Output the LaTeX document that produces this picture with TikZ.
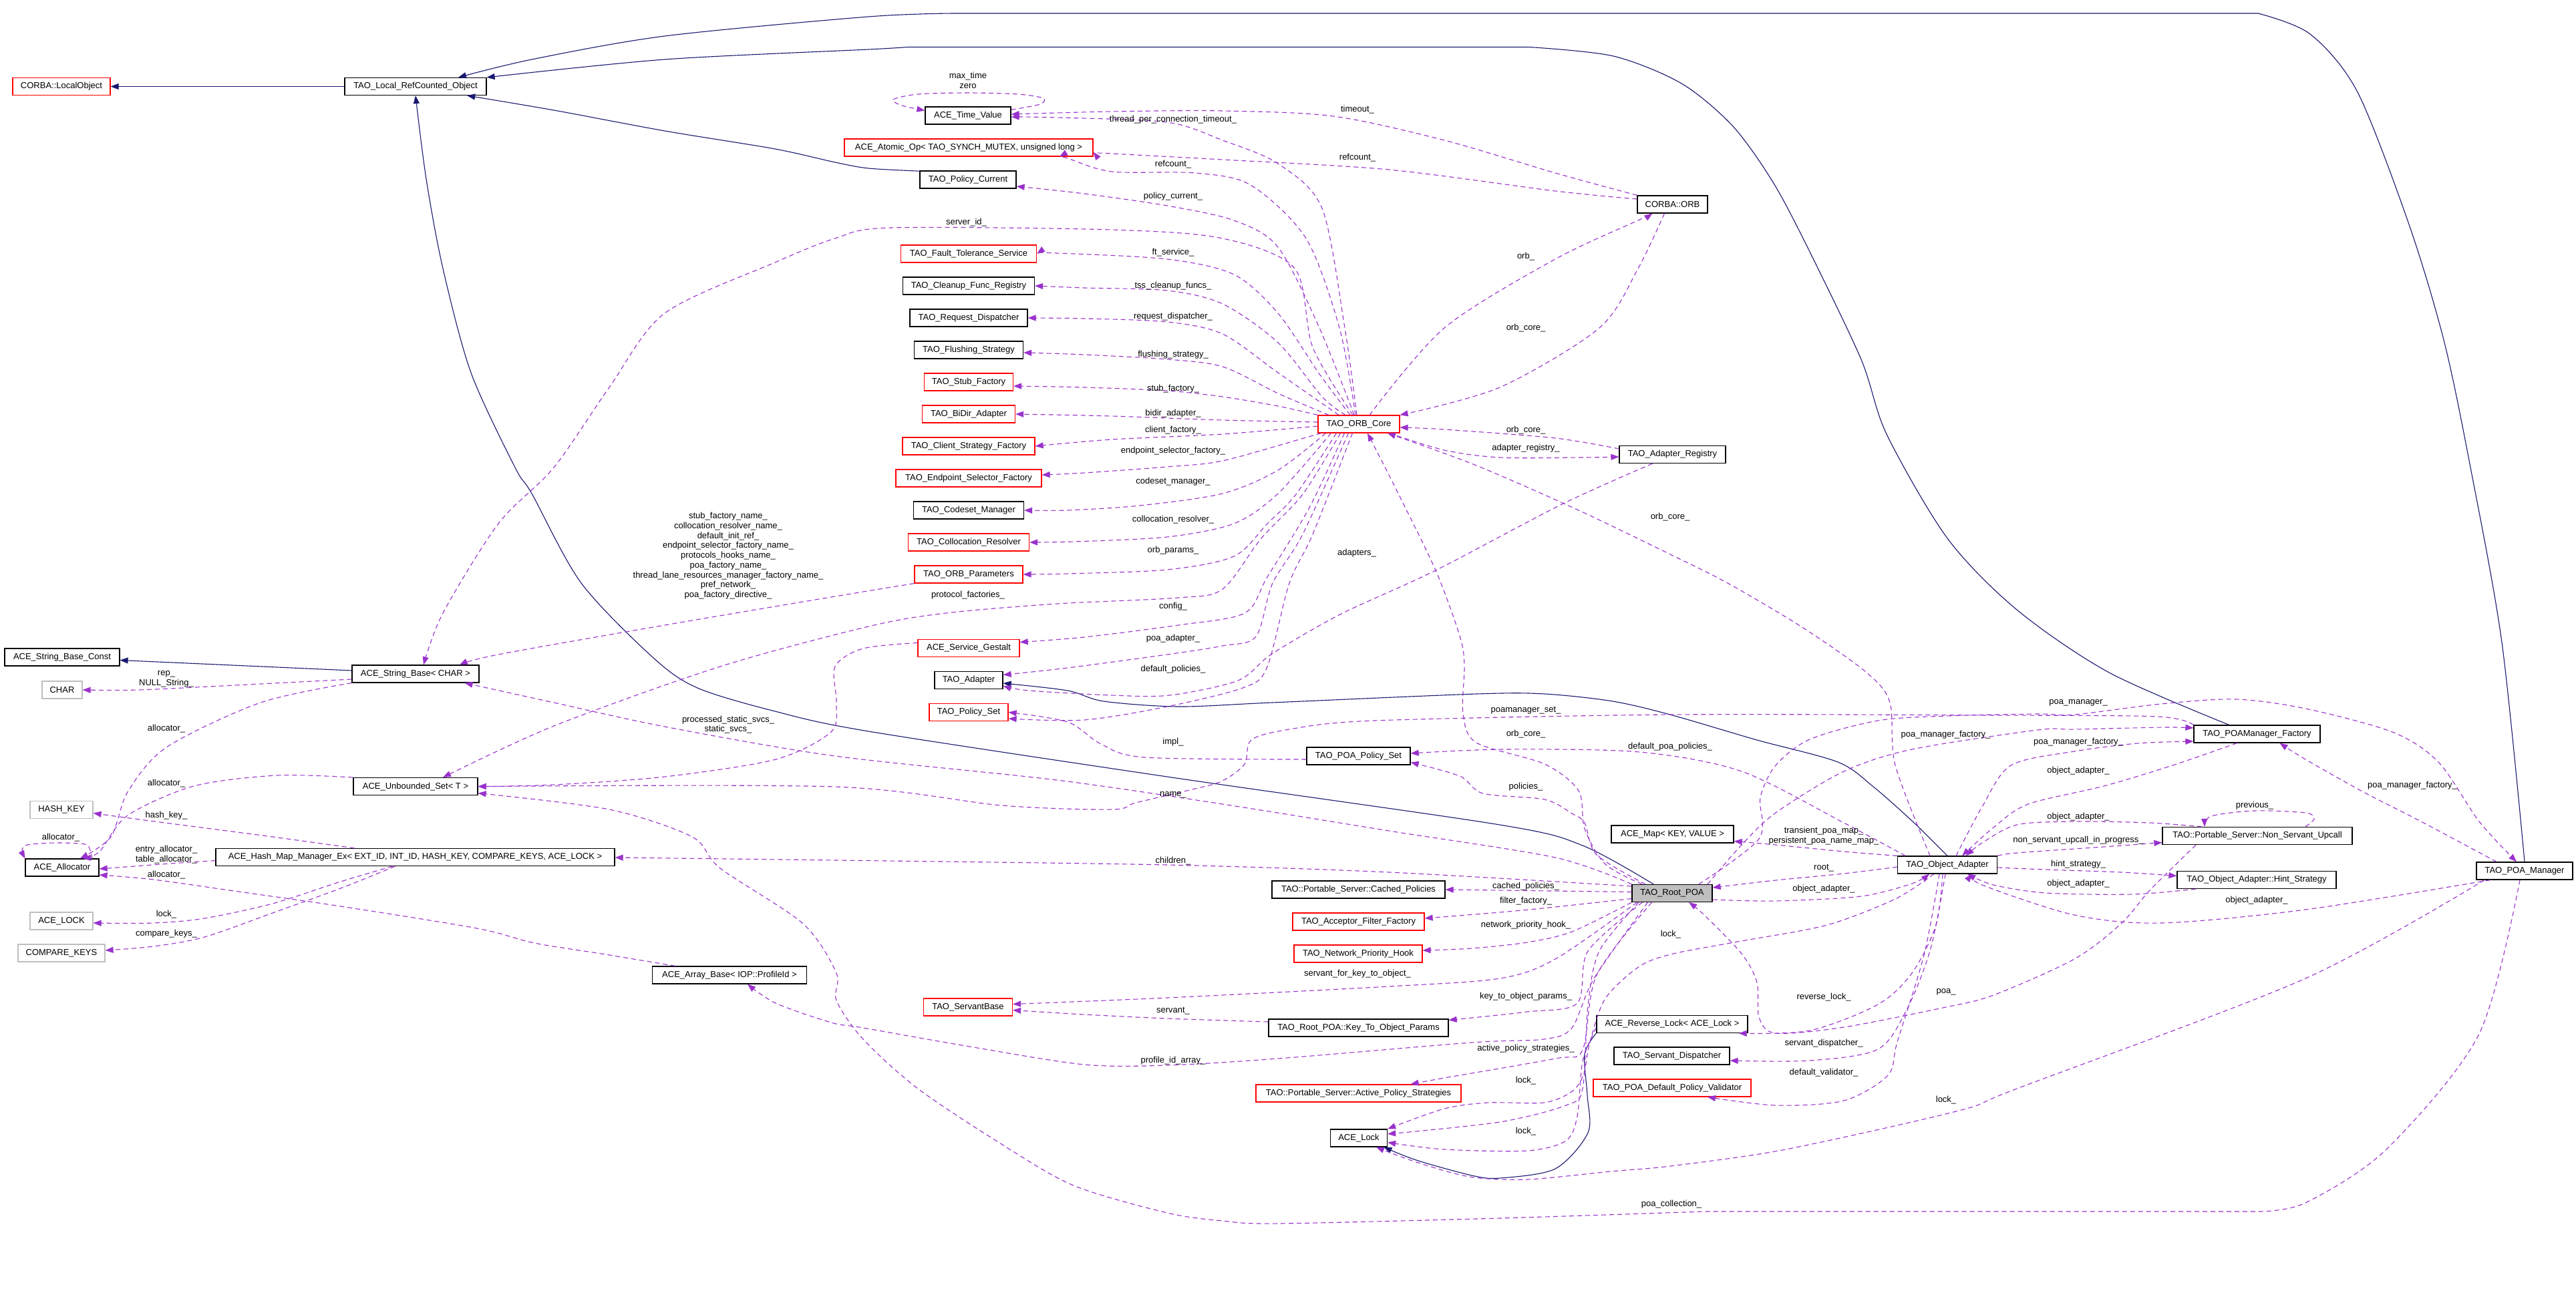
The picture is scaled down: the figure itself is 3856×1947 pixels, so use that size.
\documentclass[tikz,border=0pt]{standalone}
\usepackage{fontspec}
\setmainfont{Liberation Sans}
\usetikzlibrary{arrows.meta}
\definecolor{navyc}{RGB}{25,25,112}
\definecolor{orchidc}{RGB}{153,50,204}
\definecolor{grayb}{RGB}{191,191,191}
\begin{document}
\begin{tikzpicture}[x=1pt,y=-1pt,
  cls/.style={draw=black, line width=1.2pt, minimum height=26pt, inner sep=0pt, font=\fontsize{13}{15}\selectfont, text=black},
  clsr/.style={cls, draw=red},
  clsg/.style={cls, draw=grayb},
  lbl/.style={inner sep=0pt, font=\fontsize{13}{14.7}\selectfont, align=center},
  inh/.style={draw=navyc, line width=1.1pt, -{Triangle[length=12pt,width=9pt]}},
  use/.style={draw=orchidc, line width=1.1pt, dash pattern=on 7pt off 5pt, -{Triangle[length=12pt,width=9pt]}}]
\useasboundingbox[fill=white] (0,0) rectangle (3856,1947);

% ---------- nodes ----------
\node[clsr, minimum width=146pt] (lo) at (92,129.5) {CORBA::LocalObject};
\node[cls, minimum width=212pt] (lrc) at (622,129.5) {TAO\_Local\_RefCounted\_Object};
\node[cls, minimum width=128pt] (tv) at (1449,173) {ACE\_Time\_Value};
\node[clsr, minimum width=372pt] (ao) at (1450,221) {ACE\_Atomic\_Op< TAO\_SYNCH\_MUTEX, unsigned long >};
\node[cls, minimum width=144pt] (pc) at (1449,269) {TAO\_Policy\_Current};
\node[clsr, minimum width=203pt] (fts) at (1450,380) {TAO\_Fault\_Tolerance\_Service};
\node[cls, minimum width=197pt] (cfr) at (1450,428) {TAO\_Cleanup\_Func\_Registry};
\node[cls, minimum width=176pt] (rd) at (1450,476) {TAO\_Request\_Dispatcher};
\node[cls, minimum width=163pt] (fs) at (1450,524) {TAO\_Flushing\_Strategy};
\node[clsr, minimum width=133pt] (sf) at (1450,572) {TAO\_Stub\_Factory};
\node[clsr, minimum width=139pt] (bda) at (1450,620) {TAO\_BiDir\_Adapter};
\node[clsr, minimum width=198pt] (csf) at (1450,668) {TAO\_Client\_Strategy\_Factory};
\node[clsr, minimum width=218pt] (esf) at (1450,716) {TAO\_Endpoint\_Selector\_Factory};
\node[cls, minimum width=165pt] (cm) at (1450,764) {TAO\_Codeset\_Manager};
\node[clsr, minimum width=181pt] (cr) at (1450,812) {TAO\_Collocation\_Resolver};
\node[clsr, minimum width=162pt] (op) at (1450,860) {TAO\_ORB\_Parameters};
\node[clsr, minimum width=152pt] (sg) at (1450,970.5) {ACE\_Service\_Gestalt};
\node[cls, minimum width=102pt] (ad) at (1450,1018.5) {TAO\_Adapter};
\node[clsr, minimum width=118pt] (ps) at (1450,1066.5) {TAO\_Policy\_Set};
\node[clsr, minimum width=122pt] (core) at (2034,635) {TAO\_ORB\_Core};
\node[cls, minimum width=105pt] (orb) at (2503.5,306) {CORBA::ORB};
\node[cls, minimum width=159pt] (areg) at (2503.5,680.5) {TAO\_Adapter\_Registry};
\node[cls, minimum width=155pt] (pps) at (2033.5,1132) {TAO\_POA\_Policy\_Set};
\node[cls, minimum width=183pt] (map) at (2503.5,1249) {ACE\_Map< KEY, VALUE >};
\node[cls, minimum width=259pt] (cp) at (2033.5,1332) {TAO::Portable\_Server::Cached\_Policies};
\node[cls, fill=grayb, minimum width=120pt] (root) at (2503,1337.5) {TAO\_Root\_POA};
\node[clsr, minimum width=197pt] (aff) at (2033.5,1380) {TAO\_Acceptor\_Filter\_Factory};
\node[clsr, minimum width=192pt] (nph) at (2033,1428) {TAO\_Network\_Priority\_Hook};
\node[clsr, minimum width=133pt] (sb) at (1449,1508) {TAO\_ServantBase};
\node[cls, minimum width=269pt] (ktop) at (2033.5,1539) {TAO\_Root\_POA::Key\_To\_Object\_Params};
\node[clsr, minimum width=307pt] (aps) at (2033.5,1637) {TAO::Portable\_Server::Active\_Policy\_Strategies};
\node[cls, minimum width=85pt] (lock) at (2034,1704) {ACE\_Lock};
\node[cls, minimum width=226pt] (rl) at (2503,1533.5) {ACE\_Reverse\_Lock< ACE\_Lock >};
\node[cls, minimum width=173pt] (sd) at (2502.5,1581) {TAO\_Servant\_Dispatcher};
\node[clsr, minimum width=236pt] (dpv) at (2503,1629) {TAO\_POA\_Default\_Policy\_Validator};
\node[cls, minimum width=189pt] (pmf) at (3378.5,1099) {TAO\_POAManager\_Factory};
\node[cls, minimum width=284pt] (nsu) at (3379,1251.5) {TAO::Portable\_Server::Non\_Servant\_Upcall};
\node[cls, minimum width=149pt] (oa) at (2915,1295) {TAO\_Object\_Adapter};
\node[cls, minimum width=238pt] (hs) at (3378,1317.5) {TAO\_Object\_Adapter::Hint\_Strategy};
\node[cls, minimum width=144pt] (pm) at (3779,1304) {TAO\_POA\_Manager};
\node[cls, minimum width=172pt] (sbc) at (93,984) {ACE\_String\_Base\_Const};
\node[cls, minimum width=190pt] (sbase) at (622,1009) {ACE\_String\_Base< CHAR >};
\node[clsg, minimum width=60pt] (chr) at (93,1033) {CHAR};
\node[cls, minimum width=186pt] (us) at (622,1177.6) {ACE\_Unbounded\_Set< T >};
\node[clsg, minimum width=94pt] (hk) at (92,1212.5) {HASH\_KEY};
\node[cls, minimum width=110pt] (alloc) at (93,1299) {ACE\_Allocator};
\node[cls, minimum width=597pt] (hm) at (621.5,1283.5) {ACE\_Hash\_Map\_Manager\_Ex< EXT\_ID, INT\_ID, HASH\_KEY, COMPARE\_KEYS, ACE\_LOCK >};
\node[clsg, minimum width=94pt] (lockn) at (92,1379) {ACE\_LOCK};
\node[clsg, minimum width=130pt] (ck) at (92,1427) {COMPARE\_KEYS};
\node[cls, minimum width=231pt] (arr) at (1092,1460) {ACE\_Array\_Base< IOP::ProfileId >};

% ---------- inheritance ----------
\draw[inh] (lrc.west) -- (lo.east);
\draw[inh] plot[smooth] coordinates {(pm.north) (3745,962) (3698,700) (3659,513) (3607,339) (3529,138) (3458,51) (3380,20)} -- plot[smooth] coordinates {(1428,20) (1300,25) (995,54) (796,89) (lrc.12.6)};
\draw[inh] plot[smooth] coordinates {(pmf.162.6) (3157,1007) (3019,913) (2915,806) (2824,650) (2785,536) (2699,357) (2651,268) (2593,188) (2517,125) (2415,84) (2289,70.5)} -- plot[smooth] coordinates {(1358,70.5) (1300,74) (995,89) (lrc.north east)};
\draw[inh] plot[smooth] coordinates {(pc.170) (1300,252) (1250,243) (1160,223) (995,196) (829,165) (lrc.-10.5)};
\draw[inh] plot[smooth] coordinates {(root.154) (2369,1266) (2245,1235) (1747,1163) (1300,1095) (1160,1065) (1044,1030) (978,985) (870,873) (796,739) (771,700) (705,558) (663,402) (638,268) (lrc.south)};
\draw[inh] plot[smooth] coordinates {(oa.north) (2863,1230) (2803,1177) (2751,1141) (2630,1108) (2500,1070) (2414,1050) (2312,1039) (2210,1039) (1904,1052) (1764,1058) (1652,1050) (1598,1034) (ad.-5)};
\draw[inh] plot[smooth] coordinates {(rl.south west) (2372,1578) (2376,1640) (2377,1696) (2328,1750) (2245,1764) (2203,1760) (2120,1737) (lock.-20)};
\draw[inh] ([yshift=5pt]sbase.west) -- ([yshift=-4.5pt]sbc.east);

% ---------- usage: top area ----------
\draw[use] plot[smooth] coordinates {([yshift=-5pt]tv.north east) (1557,156) (1561,147) (1524,141) (1449,139) (1374,141) (1337,149) (1350,158) ([yshift=-6pt]tv.north west)};
\draw[use] plot[smooth] coordinates {([xshift=-3pt]core.north) (2013,491) (1979,312) (1913,245) (1830,210) (1747,183) (1582,176) ([yshift=-2pt]tv.east)};
\draw[use] plot[smooth] coordinates {([xshift=-5pt]core.north) (2005,491) (1955,357) (1872,277) (1789,259) (1664,257) (1598,237) ([xshift=136pt]ao.south)};
\draw[use] plot[smooth] coordinates {([xshift=-7pt]core.north) (1975,491) (1913,370) (1847,330) (1747,308) (1623,290) ([yshift=-10pt]pc.east)};
\draw[use] plot[smooth] coordinates {([xshift=-9pt]core.north) (1965,520) (1938,402) (1830,357) (1664,344) (1333,341) (1250,357) (1160,393) (995,469) (912,580) (829,700) (746,784) (663,918) ([xshift=12pt]sbase.north)};
\draw[use] plot[smooth] coordinates {([xshift=-13pt]core.north) (1975,560) (1913,469) (1847,411) (1747,388) (1582,379) (fts.east)};
\draw[use] plot[smooth] coordinates {([xshift=-20pt]core.north) (1979,594) (1913,513) (1830,455) (1747,435) (1623,431) (cfr.east)};
\draw[use] plot[smooth] coordinates {([xshift=-30pt]core.north) (1913,558) (1830,500) (1747,482) (1623,477) (rd.east)};
\draw[use] plot[smooth] coordinates {([xshift=-45pt]core.north) (1913,589) (1830,549) (1747,538) (1623,531) ([yshift=-4pt]fs.east)};
\draw[use] plot[smooth] coordinates {(core.north west) (1913,608) (1830,594) (1747,585) (1623,580) ([yshift=-6pt]sf.east)};
\draw[use] plot[smooth] coordinates {([yshift=3pt]core.west) (1830,629) (1664,623) (bda.east)};
\draw[use] plot[smooth] coordinates {([yshift=-3pt]core.west) (1830,650) (1664,658) (csf.east)};
\draw[use] plot[smooth] coordinates {([xshift=5pt]core.south west) (1955,655) (1830,690) (1747,699) (1623,708) ([yshift=5pt]esf.east)};
\draw[use] plot[smooth] coordinates {([xshift=12pt]core.south west) (1913,704) (1830,739) (1706,757) (1598,764) (cm.east)};
\draw[use] plot[smooth] coordinates {([xshift=20pt]core.south west) (1913,739) (1847,784) (1747,804) (1607,811) (cr.east)};
\draw[use] plot[smooth] coordinates {([xshift=28pt]core.south west) (1940,740) (1897,784) (1847,833) (1747,853) (1598,859) (op.east)};
\draw[use] plot[smooth] coordinates {([xshift=34pt]core.south west) (1950,740) (1888,806) (1830,882) (1764,895) (1582,904) (1416,918) (1300,938) (1078,998) (829,1087) ([xshift=41pt]us.north)};
\draw[use] plot[smooth] coordinates {([xshift=40pt]core.south west) (1960,760) (1897,864) (1863,918) (1764,936) (1623,954) ([yshift=9pt]sg.east)};
\draw[use] plot[smooth] coordinates {([xshift=46pt]core.south west) (1950,800) (1905,873) (1880,953) (1830,967) (1747,980) (1598,1000) ([yshift=8pt]ad.east)};
\draw[use] plot[smooth] coordinates {([xshift=52pt]core.south west) (1965,800) (1930,873) (1897,998) (1863,1029) (1747,1058) (1623,1078) ([yshift=-9.5pt]ps.east)};

\draw[use] plot[smooth] coordinates {(orb.north west) (2328,259) (2162,210) (1996,174) (1830,166) (1664,167) ([yshift=2pt]tv.east)};
\draw[use] plot[smooth] coordinates {([yshift=8pt]orb.west) (2328,286) (2079,254) (1830,239) (1664,230) ([yshift=-6.7pt]ao.east)};
\draw[use] plot[smooth] coordinates {([xshift=16pt]core.north) (2162,491) (2328,388) (2452,330) ([xshift=-30pt]orb.south)};
\draw[use] plot[smooth] coordinates {([xshift=-12pt]orb.south) (2452,402) (2394,491) (2245,580) (core.north east)};
\draw[use] plot[smooth] coordinates {([yshift=8.5pt]areg.west) (2328,656) (2162,643) ([yshift=-5pt]core.east)};
\draw[use] plot[smooth] coordinates {([xshift=-16pt]core.south east) (2162,674) (2245,685) (2369,685) ([yshift=-3.5pt]areg.west)};
\draw[use] plot[smooth] coordinates {([xshift=-30pt]areg.south) (2338,755) (2149,854) (2006,920) (1904,979) (1853,1019) (1751,1041) (1664,1041) (1540,1034) ([yshift=-8.5pt]ad.east)};
\draw[use] plot[smooth] coordinates {([xshift=-26pt]oa.north) (2837,1146) (2829,1052) (2794,1007) (2699,940) (2586,873) (2500,830) (2363,764) (2210,697) ([xshift=43pt]core.south)};
\draw[use] plot[smooth] coordinates {([xshift=-45pt]root.north) (2403,1294) (2372,1241) (2363,1184) (2312,1144) (2210,1112) (2190,1068) (2192,996) (2185,952) (2149,854) (2088,729) ([xshift=13pt]core.south)};

% ---------- usage: middle ----------
\draw[use] plot[smooth] coordinates {([xshift=-40pt]root.north) (2390,1280) (2372,1232) (2353,1218) (2312,1197) (2220,1188) (2185,1162) ([yshift=-9.5pt]pps.east)};
\draw[use] plot[smooth] coordinates {([xshift=-63pt]oa.north) (2760,1232) (2607,1155) (2454,1126) (2250,1122) ([yshift=4pt]pps.east)};
\draw[use] plot[smooth] coordinates {([yshift=-5pt]pps.west) (1714,1134) (1648,1114) (1598,1081) (ps.east)};
\draw[use] plot[smooth] coordinates {(root.north west) (2328,1284) (2079,1244) (1830,1204) (1582,1168) (1250,1132) (995,1088) (829,1052) ([xshift=-22pt]sbase.south east)};
\draw[use] plot[smooth] coordinates {(pmf.north west) (3230,1073) (2984,1071) (2500,1070) (2057,1079) (1930,1092) (1873,1108) (1863,1144) (1828,1170) (1776,1184) (1700,1202) (1664,1212) (1500,1206) (1250,1178) (us.east)};
\draw[use] plot[smooth] coordinates {([xshift=40pt]root.north) (2633,1256) (2635,1194) (2658,1146) (2709,1107) (2811,1079) (2913,1072) (3050,1069) (3105,1070) (3235,1054) (3347,1047) (3451,1061) (3581,1096) (3650,1141) (3711,1230) ([xshift=-12pt]pm.north)};
\draw[use] plot[smooth] coordinates {([xshift=53pt]root.north) (2607,1265) (2658,1217) (2760,1155) (2862,1122) (3050,1093) (3105,1092) (3240,1089) ([yshift=9pt]pmf.west)};
\draw[use] plot[smooth] coordinates {([xshift=13pt]oa.north) (2967,1208) (3010,1146) (3105,1125) (3200,1113) ([yshift=-11pt]pmf.west)};
\draw[use] plot[smooth] coordinates {([xshift=-30pt]pmf.south) (3252,1146) (3149,1177) (3036,1204) (2984,1239) ([xshift=22pt]oa.north)};
\draw[use] plot[smooth] coordinates {([xshift=-83pt]nsu.north) (3218,1232) (3105,1230) (3019,1235) (2967,1262) ([xshift=28pt]oa.north)};
\draw[use] plot[smooth] coordinates {(oa.north east) (3019,1277) (3149,1268) ([yshift=-10pt]nsu.west)};
\draw[use] plot[smooth] coordinates {([xshift=72pt]nsu.north) (3464,1226) (3451,1217) (3374,1214) (3310,1222) ([xshift=-79pt]nsu.north)};
\draw[use] plot[smooth] coordinates {([yshift=-4pt]oa.east) (3062,1302) (3175,1306) ([yshift=6pt]hs.west)};
\draw[use] plot[smooth] coordinates {([xshift=-91pt]hs.south) (3192,1339) (3062,1337) (2984,1325) ([xshift=30pt]oa.south)};
\draw[use] plot[smooth] coordinates {([xshift=-51pt]pm.south) (3451,1362) (3235,1382) (3105,1370) (2967,1325) ([xshift=37pt]oa.south)};
\draw[use] plot[smooth] coordinates {([xshift=-42pt]pm.north) (3624,1230) (3538,1186) (3451,1137) ([xshift=34pt]pmf.south)};
\draw[use] plot[smooth] coordinates {(oa.north west) (2760,1275) (2658,1265) ([yshift=-10.5pt]map.east)};
\draw[use] plot[smooth] coordinates {([yshift=-3pt]oa.west) (2760,1308) (2658,1318) ([yshift=8.5pt]root.east)};
\draw[use] plot[smooth] coordinates {([yshift=-9.5pt]root.east) (2658,1349) (2786,1342) (2862,1323) ([xshift=-27pt]oa.south)};

% ---------- usage: lower right ----------
\draw[use] plot[smooth] coordinates {([xshift=-20pt]oa.south) (2837,1346) (2735,1385) (2607,1409) (2505,1428) (2454,1447) (2403,1495) (2380,1560) (2370,1610) (2352,1635) (2311,1651) (2228,1651) (2162,1660) (lock.north east)};
\draw[use] plot[smooth] coordinates {([xshift=-50pt]root.south) (2394,1424) (2377,1506) (2369,1630) (2344,1655) (2245,1680) ([yshift=6pt]lock.east)};
\draw[use] plot[smooth] coordinates {([yshift=-5pt]rl.west) (2369,1589) (2361,1671) (2344,1708) (2286,1723) (2162,1721) ([yshift=-6.5pt]lock.east)};
\draw[use] plot[smooth] coordinates {([xshift=-60pt]pm.south) (3451,1465) (3019,1630) (2932,1663) (2673,1721) (2500,1746) (2411,1754) (2286,1766) (2200,1762) (2120,1740) ([xshift=26pt]lock.south)};
\draw[use] plot[smooth] coordinates {([xshift=-7pt]pm.south) (3711,1548) (3572,1721) (3451,1801) (3382,1814)} -- plot[smooth] coordinates {(2550,1814) (2245,1824) (1913,1832) (1830,1828) (1747,1816) (1607,1775) (1499,1713) (1374,1630) (1292,1556) (1252,1498) (1252,1457) (1202,1383) (1078,1300) (1036,1253) (912,1212) ([yshift=-10pt]us.east)};
\draw[use] plot[smooth] coordinates {([xshift=-92pt]nsu.south) (3218,1333) (3175,1383) (3105,1436) (2984,1490) (2908,1509) (2760,1538) (2658,1547) (2633,1523) (2630,1471) (2607,1428) (2551,1370) ([xshift=25pt]root.south)};
\draw[use] plot[smooth] coordinates {([xshift=-7pt]oa.south) (2898,1385) (2862,1457) (2811,1504) (2709,1543) ([xshift=-14pt]rl.south east)};
\draw[use] plot[smooth] coordinates {([xshift=-3pt]oa.south) (2890,1420) (2855,1510) (2811,1571) (2709,1588) ([yshift=-7pt]sd.east)};
\draw[use] plot[smooth] coordinates {([xshift=-12pt]oa.south) (2880,1430) (2840,1560) (2826,1610) (2760,1648) (2658,1655) ([xshift=53pt]dpv.south)};

% ---------- usage: root_poa to the left ----------
\draw[use] plot[smooth] coordinates {([yshift=-3pt]root.north west) (2079,1306) (1747,1295) (1250,1288) ([yshift=-0.5pt]hm.east)};
\draw[use] ([yshift=2pt]root.west) -- (cp.east);
\draw[use] plot[smooth] coordinates {([yshift=-8pt]root.west) (2328,1358) (2245,1366) ([yshift=5pt]aff.east)};
\draw[use] plot[smooth] coordinates {(root.south west) (2353,1395) (2286,1411) (2203,1420) ([yshift=5pt]nph.east)};
\draw[use] plot[smooth] coordinates {([xshift=8pt]root.south west) (2328,1436) (2245,1465) (2079,1477) (1747,1494) ([yshift=4.5pt]sb.east)};
\draw[use] plot[smooth] coordinates {([xshift=16pt]root.south west) (2377,1424) (2361,1502) (2286,1515) ([yshift=-2pt]ktop.north east)};
\draw[use] plot[smooth] coordinates {([yshift=9pt]ktop.west) (1747,1525) (1623,1519) ([yshift=-4.5pt]sb.east)};
\draw[use] plot[smooth] coordinates {([xshift=24pt]root.south west) (2386,1465) (2353,1539) (2311,1556) (2203,1561) (1913,1585) (1747,1595) (1623,1594) (1457,1568) (1292,1539) (1244,1531) (1161,1502) ([xshift=27pt]arr.south)};
\draw[use] plot[smooth] coordinates {([xshift=30pt]root.south west) (2390,1460) (2369,1572) (2328,1585) (2162,1614) ([xshift=78pt]aps.north)};

% ---------- usage: left ----------
\draw[use] plot[smooth] coordinates {(op.south west) (1250,893) (995,936) (746,980) ([xshift=66pt]sbase.north)};
\draw[use] plot[smooth] coordinates {([yshift=8pt]sg.west) (1292,971) (1250,998) (1252,1052) (1244,1096) (1161,1137) (995,1163) (829,1175) (us.east)};
\draw[use] plot[smooth] coordinates {([yshift=-8pt]sbase.west) (332,1027) (207,1033) (chr.east)};
\draw[use] plot[smooth] coordinates {(sbase.south west) (390,1052) (249,1119) (191,1186) (166,1253) ([xshift=27pt]alloc.north)};
\draw[use] plot[smooth] coordinates {(us.north west) (414,1161) (290,1177) (191,1221) (149,1275) ([xshift=31pt]alloc.north)};
\draw[use] plot[smooth] coordinates {([xshift=45pt]alloc.north) (135,1273) (127,1264) (82,1262) (41,1265) (33,1273) (alloc.north west)};
\draw[use] plot[smooth] coordinates {([xshift=-91pt]hm.north) (408,1253) (255,1233) (179,1223) ([yshift=-5pt]hk.east)};
\draw[use] plot[smooth] coordinates {([yshift=-5pt]hm.west) (255,1293) ([yshift=-2pt]alloc.east)};
\draw[use] plot[smooth] coordinates {([xshift=-81pt]arr.north) (900,1428) (800,1412) (714,1390) (510,1357) (357,1335) (230,1317) ([yshift=-11pt]alloc.east)};
\draw[use] plot[smooth] coordinates {([xshift=-34pt]hm.south) (510,1320) (408,1353) (306,1375) (230,1382) ([yshift=-3pt]lockn.east)};
\draw[use] plot[smooth] coordinates {([xshift=-30pt]hm.south) (510,1330) (408,1367) (306,1403) (230,1417) ([yshift=4pt]ck.east)};

% ---------- labels ----------
\node[lbl] (l01) at (1449,120) {max\_time\\zero};
\node[lbl] (l02) at (1756,179.5) {thread\_per\_connection\_timeout\_};
\node[lbl] (l03) at (2032,163.8) {timeout\_};
\node[lbl] (l04) at (1756,246.4) {refcount\_};
\node[lbl] (l05) at (2032,235.7) {refcount\_};
\node[lbl] (l06) at (1756,294.6) {policy\_current\_};
\node[lbl] (l07) at (1446.5,333.5) {server\_id\_};
\node[lbl] (l08) at (1756,378.5) {ft\_service\_};
\node[lbl] (l09) at (1756,427.7) {tss\_cleanup\_funcs\_};
\node[lbl] (l10) at (1756,474.5) {request\_dispatcher\_};
\node[lbl] (l11) at (1756,531) {flushing\_strategy\_};
\node[lbl] (l12) at (1756,582.5) {stub\_factory\_};
\node[lbl] (l13) at (1756,619.6) {bidir\_adapter\_};
\node[lbl] (l14) at (1756,643.7) {client\_factory\_};
\node[lbl] (l15) at (1756,675.4) {endpoint\_selector\_factory\_};
\node[lbl] (l16) at (1756,721.4) {codeset\_manager\_};
\node[lbl] (l17) at (1756,777.7) {collocation\_resolver\_};
\node[lbl] (l18) at (1756,823.7) {orb\_params\_};
\node[lbl] (l19) at (1449,891) {protocol\_factories\_};
\node[lbl] (l20) at (1756,908) {config\_};
\node[lbl] (l21) at (1756,955.8) {poa\_adapter\_};
\node[lbl] (l22) at (1756,1001.8) {default\_policies\_};
\node[lbl] (l23) at (2284,384) {orb\_};
\node[lbl] (l24) at (2284,491) {orb\_core\_};
\node[lbl] (l25) at (2284,643.7) {orb\_core\_};
\node[lbl] (l26) at (2284,671) {adapter\_registry\_};
\node[lbl] (l27) at (2031,827.7) {adapters\_};
\node[lbl] (l28) at (2500,773.6) {orb\_core\_};
\node[lbl] (l29) at (2284,1098.6) {orb\_core\_};
\node[lbl] (l30) at (2284,1063.8) {poamanager\_set\_};
\node[lbl] (l31) at (1756,1110.7) {impl\_};
\node[lbl] (l32) at (2500,1118.5) {default\_poa\_policies\_};
\node[lbl] (l33) at (2284,1178) {policies\_};
\node[lbl] (l34) at (1756,1190) {name\_};
\node[lbl] (l35) at (1756,1289) {children\_};
\node[lbl] (l36) at (1090,832.3) {stub\_factory\_name\_\\collocation\_resolver\_name\_\\default\_init\_ref\_\\endpoint\_selector\_factory\_name\_\\protocols\_hooks\_name\_\\poa\_factory\_name\_\\thread\_lane\_resources\_manager\_factory\_name\_\\pref\_network\_\\poa\_factory\_directive\_};
\node[lbl] (l37) at (1090,1085) {processed\_static\_svcs\_\\static\_svcs\_};
\node[lbl] (l38) at (249,1016.5) {rep\_\\NULL\_String\_};
\node[lbl] (l39) at (249,1091) {allocator\_};
\node[lbl] (l40) at (249,1173) {allocator\_};
\node[lbl] (l41) at (249,1221) {hash\_key\_};
\node[lbl] (l42) at (91,1254) {allocator\_};
\node[lbl] (l43) at (249,1279.5) {entry\_allocator\_\\table\_allocator\_};
\node[lbl] (l44) at (249,1309.8) {allocator\_};
\node[lbl] (l45) at (249,1369.3) {lock\_};
\node[lbl] (l46) at (249,1397.8) {compare\_keys\_};
\node[lbl] (l47) at (2284,1326.8) {cached\_policies\_};
\node[lbl] (l48) at (2284,1349.5) {filter\_factory\_};
\node[lbl] (l49) at (2284,1385.4) {network\_priority\_hook\_};
\node[lbl] (l50) at (2032,1458.4) {servant\_for\_key\_to\_object\_};
\node[lbl] (l51) at (2284,1491.9) {key\_to\_object\_params\_};
\node[lbl] (l52) at (1756,1513.7) {servant\_};
\node[lbl] (l53) at (1756,1588) {profile\_id\_array\_};
\node[lbl] (l54) at (2284,1570) {active\_policy\_strategies\_};
\node[lbl] (l55) at (2284,1618.5) {lock\_};
\node[lbl] (l56) at (2284,1694) {lock\_};
\node[lbl] (l57) at (2501,1399.4) {lock\_};
\node[lbl] (l58) at (2502,1803) {poa\_collection\_};
\node[lbl] (l59) at (2913,1646.6) {lock\_};
\node[lbl] (l60) at (2730,1251.5) {transient\_poa\_map\_\\persistent\_poa\_name\_map\_};
\node[lbl] (l61) at (2730,1300) {root\_};
\node[lbl] (l62) at (2730,1331) {object\_adapter\_};
\node[lbl] (l63) at (2730,1493) {reverse\_lock\_};
\node[lbl] (l64) at (2913,1485.7) {poa\_};
\node[lbl] (l65) at (2730,1562) {servant\_dispatcher\_};
\node[lbl] (l66) at (2730,1606) {default\_validator\_};
\node[lbl] (l67) at (3111,1052) {poa\_manager\_};
\node[lbl] (l68) at (2912.5,1100) {poa\_manager\_factory\_};
\node[lbl] (l69) at (3111,1110.7) {poa\_manager\_factory\_};
\node[lbl] (l70) at (3111,1154.5) {object\_adapter\_};
\node[lbl] (l71) at (3611,1176) {poa\_manager\_factory\_};
\node[lbl] (l72) at (3375,1206) {previous\_};
\node[lbl] (l73) at (3111,1223.6) {object\_adapter\_};
\node[lbl] (l74) at (3111,1258) {non\_servant\_upcall\_in\_progress\_};
\node[lbl] (l75) at (3111,1293.7) {hint\_strategy\_};
\node[lbl] (l76) at (3111,1322.7) {object\_adapter\_};
\node[lbl] (l77) at (3378,1348) {object\_adapter\_};
\end{tikzpicture}
\end{document}
